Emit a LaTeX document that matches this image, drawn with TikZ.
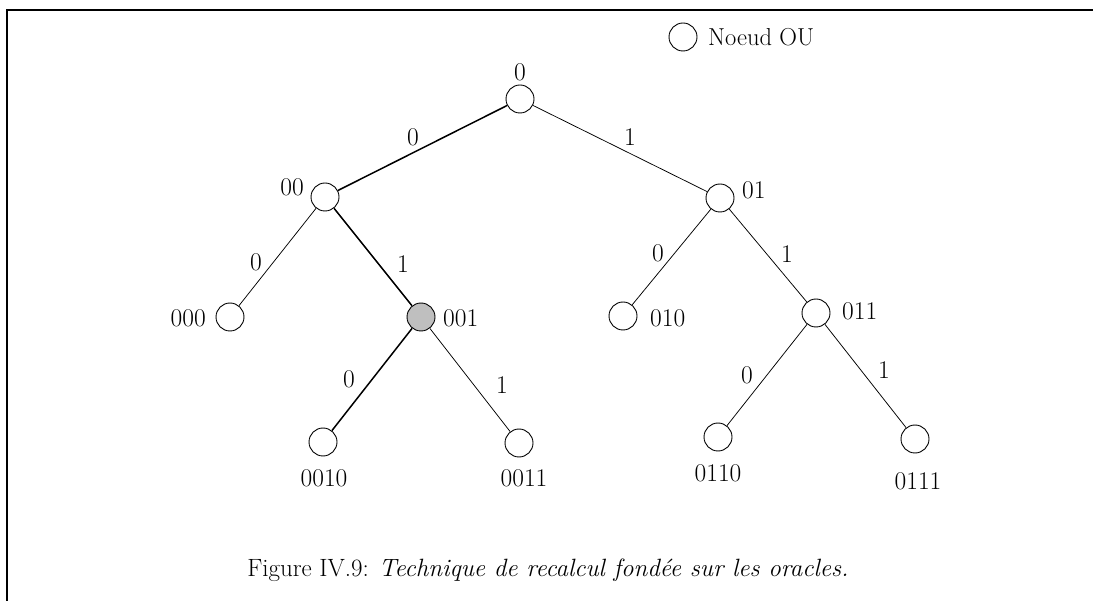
\documentclass[tikz,border=0pt]{standalone}
\usepackage{fontspec}
\begin{document}
\begin{tikzpicture}[x=1pt,y=-1pt,
  ou/.style={circle,draw,line width=0.9pt,minimum size=28pt,inner sep=0pt},
  lbl/.style={inner sep=0pt,font=\fontsize{25.5}{30}\selectfont},
  thin edge/.style={line width=0.75pt},
  thick edge/.style={line width=1.5pt}]
\useasboundingbox (0,0) rectangle (1093,601);
\draw[line width=2.2pt] (7,601) -- (7,10) -- (1093,10);
% legend
\node[ou] (leg) at (683,37) {};
\node[lbl,anchor=west,font=\fontsize{24.5}{28}\selectfont] (legt) at (708,37) {Noeud OU};
% nodes
\node[ou] (n0) at (520,99) {};
\node[ou] (n00) at (325,197) {};
\node[ou] (n01) at (720,198) {};
\node[ou] (n000) at (230,317) {};
\node[ou,fill=black!25] (n001) at (421,317) {};
\node[ou] (n010) at (623,316) {};
\node[ou] (n011) at (816,313) {};
\node[ou] (n0010) at (323,442) {};
\node[ou] (n0011) at (519,443) {};
\node[ou] (n0110) at (718,437) {};
\node[ou] (n0111) at (915,439) {};
% node labels
\node[lbl] (l0) at (520,72) {0};
\node[lbl,anchor=east] (l00) at (304,187) {00};
\node[lbl,anchor=west] (l01) at (742,190) {01};
\node[lbl,anchor=east] (l000) at (206,318) {000};
\node[lbl,anchor=west] (l001) at (443,318) {001};
\node[lbl,anchor=west] (l010) at (650,318) {010};
\node[lbl,anchor=west] (l011) at (842,311) {011};
\node[lbl] (l0010) at (324,478) {0010};
\node[lbl] (l0011) at (524,478) {0011};
\node[lbl] (l0110) at (718,473) {0110};
\node[lbl] (l0111) at (918,481) {0111};
% edges
\draw[thick edge] (n0) -- (n00);
\draw[thin edge] (n0) -- (n01);
\draw[thin edge] (n00) -- (n000);
\draw[thick edge] (n00) -- (n001);
\draw[thin edge] (n01) -- (n010);
\draw[thin edge] (n01) -- (n011);
\draw[thick edge] (n001) -- (n0010);
\draw[thin edge] (n001) -- (n0011);
\draw[thin edge] (n011) -- (n0110);
\draw[thin edge] (n011) -- (n0111);
% edge labels
\node[lbl] (e1) at (413,137) {0};
\node[lbl] (e2) at (630,137) {1};
\node[lbl] (e3) at (256,262) {0};
\node[lbl] (e4) at (403,264) {1};
\node[lbl] (e5) at (658,253) {0};
\node[lbl] (e6) at (787,254) {1};
\node[lbl] (e7) at (349,379) {0};
\node[lbl] (e8) at (502,385) {1};
\node[lbl] (e9) at (747,375) {0};
\node[lbl] (e10) at (884,370) {1};
% caption
\node[inner sep=0pt,font=\fontsize{25}{30}\selectfont] (cap) at (548,570) {Figure IV.9: \textit{Technique de recalcul fond\'ee sur les oracles.}};
\end{tikzpicture}
\end{document}
